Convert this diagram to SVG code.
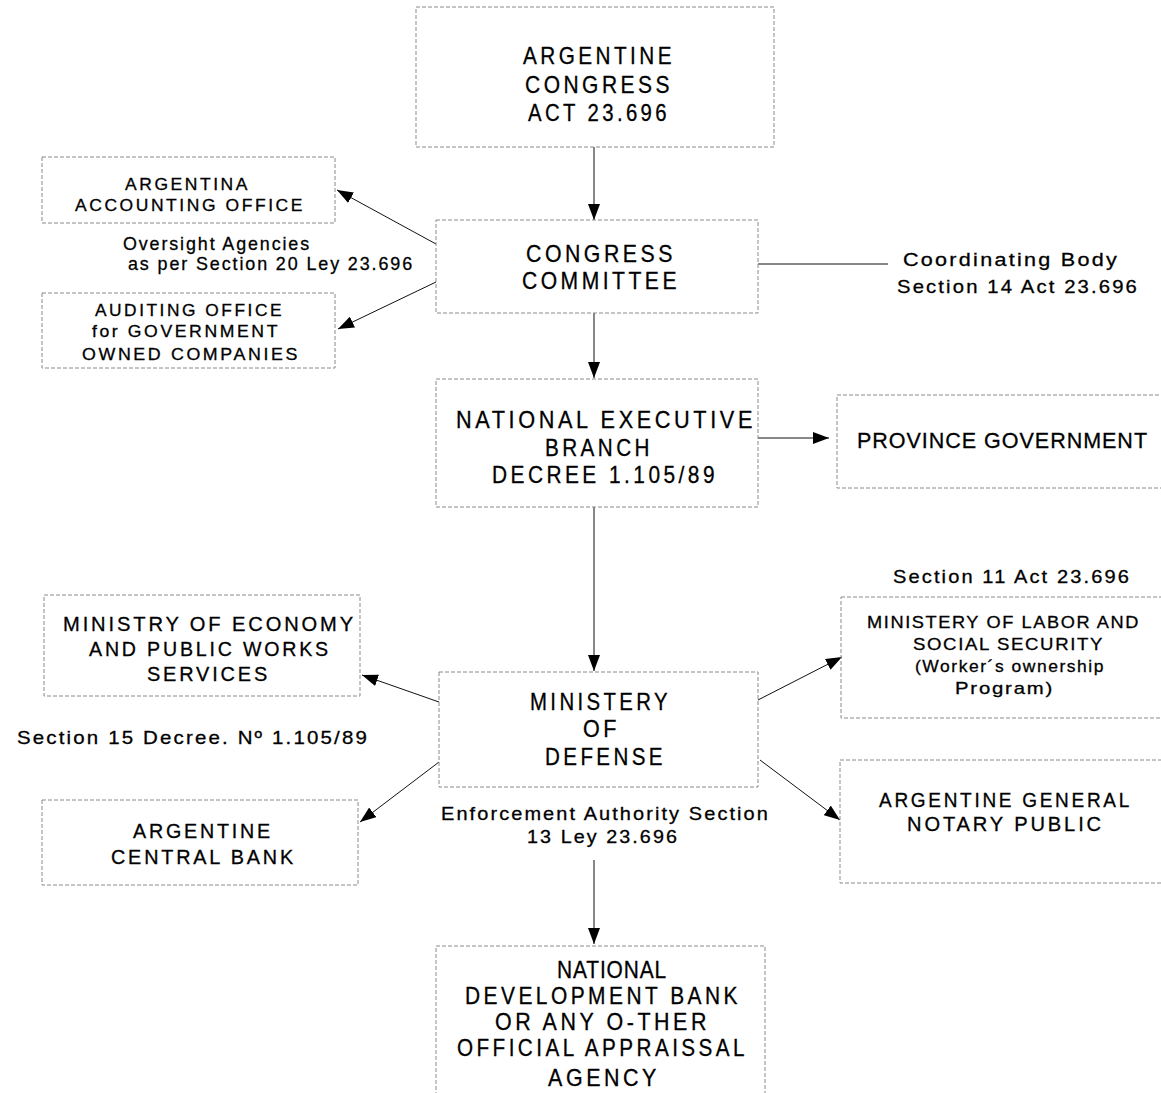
<svg xmlns="http://www.w3.org/2000/svg" width="1161" height="1093" viewBox="0 0 1161 1093">
<defs>
<marker id="ah" viewBox="0 0 16 12" refX="16" refY="6" markerWidth="16" markerHeight="12" markerUnits="userSpaceOnUse" orient="auto">
<path d="M0,0 L16,6 L0,12 Z" fill="#000"/>
</marker>
</defs>
<style>
.box{fill:none;stroke:#8a8a8a;stroke-width:1;stroke-dasharray:4 2}
.t{font-family:"Liberation Sans",Arial,sans-serif;fill:#000;stroke:#000;stroke-width:0.3}
.big{font-size:24px;letter-spacing:4px}
.mid{font-size:21px;letter-spacing:3px}
.med{font-size:17px;letter-spacing:2.5px}
.sm{font-size:17px;letter-spacing:1.5px}
.lbl{font-size:19px;letter-spacing:2px}
.c{stroke:#111;stroke-width:1;fill:none}
</style>
<rect width="1161" height="1093" fill="#fff"/>

<g id="connectors">
<line class="c" x1="594" y1="147" x2="594" y2="220" marker-end="url(#ah)"/>
<line class="c" x1="436" y1="244" x2="337" y2="190" marker-end="url(#ah)"/>
<line class="c" x1="436" y1="282" x2="338" y2="329" marker-end="url(#ah)"/>
<line class="c" x1="758" y1="264" x2="888" y2="264"/>
<line class="c" x1="594" y1="313" x2="594" y2="378" marker-end="url(#ah)"/>
<line class="c" x1="758" y1="438" x2="829" y2="438" marker-end="url(#ah)"/>
<line class="c" x1="594" y1="507" x2="594" y2="671" marker-end="url(#ah)"/>
<line class="c" x1="439" y1="702" x2="362" y2="675" marker-end="url(#ah)"/>
<line class="c" x1="439" y1="762" x2="360" y2="822" marker-end="url(#ah)"/>
<line class="c" x1="758" y1="700" x2="842" y2="657" marker-end="url(#ah)"/>
<line class="c" x1="760" y1="760" x2="840" y2="820" marker-end="url(#ah)"/>
<line class="c" x1="594" y1="860" x2="594" y2="944" marker-end="url(#ah)"/>
</g>

<g id="argentine-congress">
<rect class="box" x="416" y="7" width="358" height="140"/>
<text class="t big" x="523" y="64" textLength="152" lengthAdjust="spacingAndGlyphs">ARGENTINE</text>
<text class="t big" x="525" y="93" textLength="148" lengthAdjust="spacingAndGlyphs">CONGRESS</text>
<text class="t big" x="528" y="121" textLength="142" lengthAdjust="spacingAndGlyphs">ACT 23.696</text>
</g>

<g id="congress-committee">
<rect class="box" x="436" y="220" width="322" height="93"/>
<text class="t big" x="526" y="262" textLength="150" lengthAdjust="spacingAndGlyphs">CONGRESS</text>
<text class="t big" x="522" y="289" textLength="158" lengthAdjust="spacingAndGlyphs">COMMITTEE</text>
</g>

<g id="coordinating-label">
<text class="t lbl" x="903" y="266" textLength="216" lengthAdjust="spacingAndGlyphs">Coordinating Body</text>
<text class="t lbl" x="897" y="293" textLength="242" lengthAdjust="spacingAndGlyphs">Section 14 Act 23.696</text>
</g>

<g id="accounting-office">
<rect class="box" x="42" y="157" width="293" height="66"/>
<text class="t med" x="125" y="190" textLength="125" lengthAdjust="spacingAndGlyphs">ARGENTINA</text>
<text class="t med" x="75" y="211" textLength="230" lengthAdjust="spacingAndGlyphs">ACCOUNTING OFFICE</text>
</g>

<g id="oversight-label">
<text class="t lbl" x="123" y="250" textLength="188" lengthAdjust="spacingAndGlyphs">Oversight Agencies</text>
<text class="t lbl" x="128" y="270" textLength="286" lengthAdjust="spacingAndGlyphs">as per Section  20 Ley 23.696</text>
</g>

<g id="auditing-office">
<rect class="box" x="42" y="293" width="293" height="75"/>
<text class="t med" x="95" y="316" textLength="189" lengthAdjust="spacingAndGlyphs">AUDITING OFFICE</text>
<text class="t med" x="92" y="337" textLength="188" lengthAdjust="spacingAndGlyphs">for GOVERNMENT</text>
<text class="t med" x="82" y="360" textLength="218" lengthAdjust="spacingAndGlyphs">OWNED COMPANIES</text>
</g>

<g id="national-executive">
<rect class="box" x="436" y="379" width="322" height="128"/>
<text class="t big" x="456" y="428" textLength="300" lengthAdjust="spacingAndGlyphs">NATIONAL  EXECUTIVE</text>
<text class="t big" x="545" y="456" textLength="108" lengthAdjust="spacingAndGlyphs">BRANCH</text>
<text class="t big" x="492" y="483" textLength="226" lengthAdjust="spacingAndGlyphs">DECREE  1.105/89</text>
</g>

<g id="province-government">
<rect class="box" x="837" y="395" width="330" height="93"/>
<text class="t" x="857" y="448" style="font-size:22px;letter-spacing:1px" textLength="291" lengthAdjust="spacingAndGlyphs">PROVINCE GOVERNMENT</text>
</g>

<g id="ministry-economy">
<rect class="box" x="44" y="595" width="316" height="101"/>
<text class="t mid" x="63" y="631" textLength="293" lengthAdjust="spacingAndGlyphs">MINISTRY OF  ECONOMY</text>
<text class="t mid" x="89" y="656" textLength="242" lengthAdjust="spacingAndGlyphs">AND PUBLIC WORKS</text>
<text class="t mid" x="147" y="681" textLength="123" lengthAdjust="spacingAndGlyphs">SERVICES</text>
</g>

<g id="section15-label">
<text class="t lbl" x="17" y="744" textLength="352" lengthAdjust="spacingAndGlyphs">Section  15  Decree. Nº 1.105/89</text>
</g>

<g id="ministry-defense">
<rect class="box" x="439" y="672" width="319" height="115"/>
<text class="t big" x="530" y="710" textLength="141" lengthAdjust="spacingAndGlyphs">MINISTERY</text>
<text class="t big" x="583" y="737" textLength="37" lengthAdjust="spacingAndGlyphs">OF</text>
<text class="t big" x="545" y="765" textLength="121" lengthAdjust="spacingAndGlyphs">DEFENSE</text>
</g>

<g id="enforcement-label">
<text class="t lbl" x="441" y="820" textLength="329" lengthAdjust="spacingAndGlyphs">Enforcement  Authority Section</text>
<text class="t lbl" x="527" y="843" textLength="152" lengthAdjust="spacingAndGlyphs">13 Ley 23.696</text>
</g>

<g id="central-bank">
<rect class="box" x="42" y="800" width="316" height="85"/>
<text class="t mid" x="133" y="838" textLength="140" lengthAdjust="spacingAndGlyphs">ARGENTINE</text>
<text class="t mid" x="111" y="864" textLength="185" lengthAdjust="spacingAndGlyphs">CENTRAL BANK</text>
</g>

<g id="section11-label">
<text class="t lbl" x="893" y="583" textLength="238" lengthAdjust="spacingAndGlyphs">Section  11 Act 23.696</text>
</g>

<g id="ministry-labor">
<rect class="box" x="841" y="597" width="330" height="121"/>
<text class="t sm" x="867" y="628" textLength="273" lengthAdjust="spacingAndGlyphs">MINISTERY OF LABOR AND</text>
<text class="t sm" x="913" y="650" textLength="191" lengthAdjust="spacingAndGlyphs">SOCIAL SECURITY</text>
<text class="t sm" x="915" y="672" textLength="190" lengthAdjust="spacingAndGlyphs">(Worker´s ownership</text>
<text class="t sm" x="955" y="694" textLength="99" lengthAdjust="spacingAndGlyphs">Program)</text>
</g>

<g id="notary-public">
<rect class="box" x="840" y="760" width="330" height="123"/>
<text class="t mid" x="879" y="807" textLength="253" lengthAdjust="spacingAndGlyphs">ARGENTINE GENERAL</text>
<text class="t mid" x="907" y="831" textLength="197" lengthAdjust="spacingAndGlyphs">NOTARY PUBLIC</text>
</g>

<g id="development-bank">
<rect class="box" x="436" y="946" width="329" height="160"/>
<text class="t big" x="557" y="978" textLength="110" lengthAdjust="spacingAndGlyphs" style="letter-spacing:1px">NATIONAL</text>
<text class="t big" x="465" y="1004" textLength="276" lengthAdjust="spacingAndGlyphs">DEVELOPMENT BANK</text>
<text class="t big" x="495" y="1030" textLength="215" lengthAdjust="spacingAndGlyphs">OR ANY O-THER</text>
<text class="t big" x="457" y="1056" textLength="291" lengthAdjust="spacingAndGlyphs">OFFICIAL APPRAISSAL</text>
<text class="t big" x="548" y="1086" textLength="112" lengthAdjust="spacingAndGlyphs">AGENCY</text>
</g>
</svg>
